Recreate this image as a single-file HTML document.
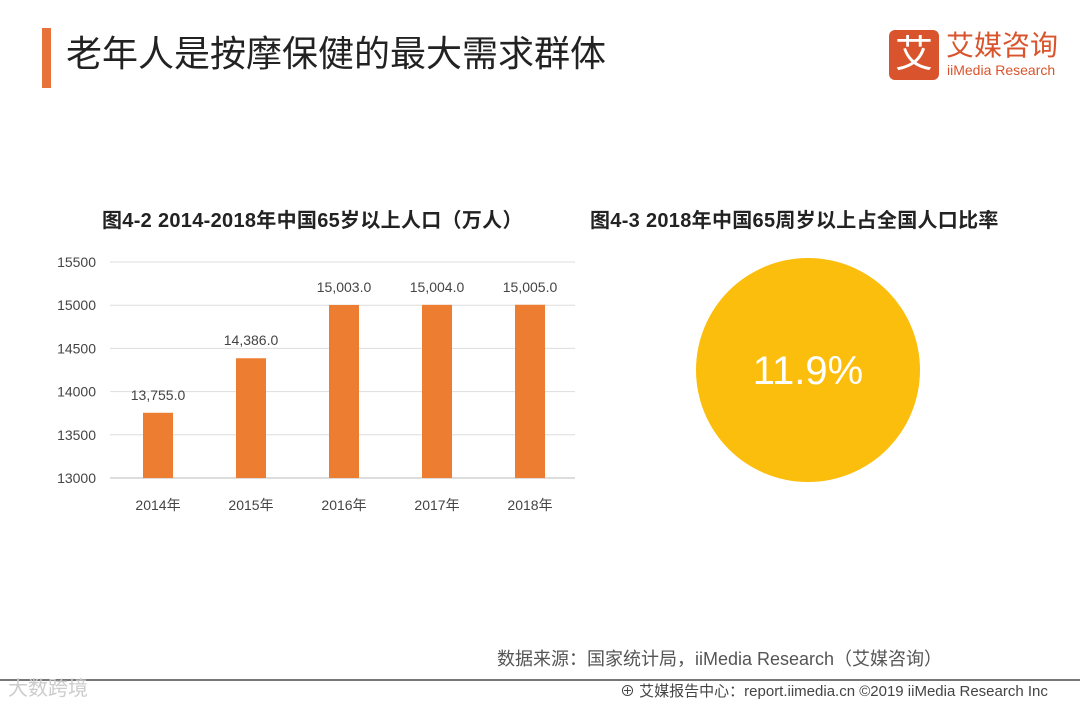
<!DOCTYPE html>
<html><head><meta charset="utf-8"><style>
body{margin:0;width:1080px;height:703px;background:#fff;position:relative;overflow:hidden;font-family:"Liberation Sans","Noto Sans CJK SC",sans-serif}
.a{position:absolute;white-space:nowrap}
</style></head><body>
<div class="a" style="left:42px;top:28px;width:9px;height:60px;background:#E8733A"></div>
<div class="a" style="left:66px;top:31px;font-size:36px;color:#222;line-height:46px">老年人是按摩保健的最大需求群体</div>
<div class="a" style="left:889px;top:30px;width:50px;height:50px;background:#D9542C;border-radius:6px;color:#fff;font-size:38px;line-height:50px;text-align:center">艾</div>
<div class="a" style="left:946px;top:30px;font-size:28px;color:#D9542C;line-height:32px">艾媒咨询</div>
<div class="a" style="left:947px;top:62px;font-size:14px;color:#D9542C">iiMedia Research</div>
<div class="a" style="left:102px;top:204px;font-size:20px;font-weight:bold;color:#222;letter-spacing:0.3px">图4-2  2014-2018年中国65岁以上人口（万人）</div>
<div class="a" style="left:590px;top:204px;font-size:20px;font-weight:bold;color:#222;letter-spacing:0.3px">图4-3 2018年中国65周岁以上占全国人口比率</div>
<svg class="a" style="left:0;top:0" width="1080" height="703">
<g id="bars"></g>
<circle cx="808" cy="370" r="112" fill="#FCBE0C"/>
<text x="808" y="384" font-size="40" fill="#fff" text-anchor="middle" font-family="Liberation Sans">11.9%</text>
</svg>
<div class="a" style="left:497px;top:645px;font-size:18px;color:#555">数据来源：国家统计局，iiMedia Research（艾媒咨询）</div>
<div class="a" style="left:0;top:679px;width:1080px;height:2px;background:#777"></div>
<div class="a" style="left:8px;top:672px;font-size:20px;color:#ccc">大数跨境</div>
<div class="a" style="left:620px;top:680px;font-size:15px;color:#444">⊕ 艾媒报告中心：report.iimedia.cn ©2019  iiMedia Research Inc</div>
<script>
const categories=["2014年","2015年","2016年","2017年","2018年"];
const values=[13755,14386,15003,15004,15005];
const ticks=[13000,13500,14000,14500,15000,15500];
const ns="http://www.w3.org/2000/svg";
const g=document.getElementById('bars');
const y=v=>478-(v-13000)*216/2500;
const x=i=>158+i*93;
function mk(t,a,txt){const e=document.createElementNS(ns,t);for(const k in a)e.setAttribute(k,a[k]);if(txt!==undefined)e.textContent=txt;g.appendChild(e);return e;}
ticks.forEach(t=>{
 const l=mk('line',{x1:110,x2:575,y1:y(t),y2:y(t),stroke:t===13000?'#bbb':'#ddd','stroke-width':1});
 
 
 const tx=mk('text',{x:96,y:y(t)+5,'font-size':14,fill:'#444','text-anchor':'end','font-family':'Liberation Sans'},t);
 
 
});
values.forEach((v,i)=>{
 const r=mk('rect',{x:x(i)-15,y:y(v),width:30,height:478-y(v),fill:'#ED7D31'});
 
 
 const lb=mk('text',{x:x(i),y:y(v)-13,'font-size':14,fill:'#444','text-anchor':'middle','font-family':'Liberation Sans'},v.toLocaleString('en-US',{minimumFractionDigits:1}));
 
 
 const c=mk('text',{x:x(i),y:510,'font-size':14,fill:'#444','text-anchor':'middle','font-family':'Liberation Sans,Noto Sans CJK SC'},categories[i]);
 
 
});
</script>
</body></html>
